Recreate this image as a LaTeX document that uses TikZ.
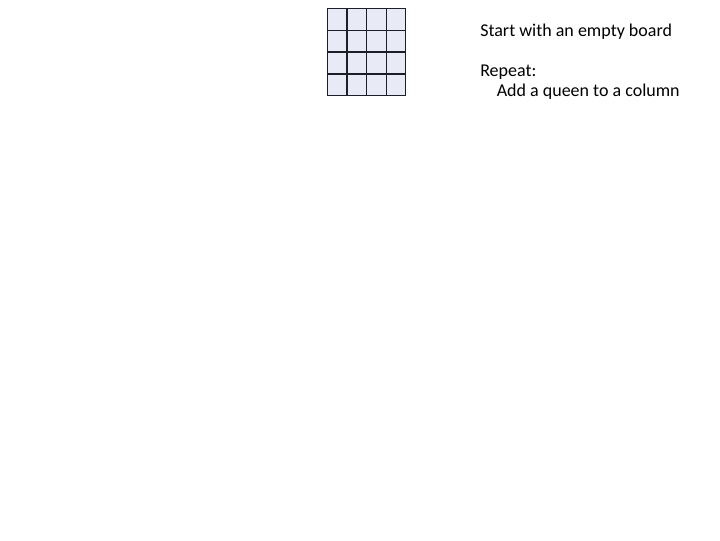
\documentclass[tikz,border=0pt]{standalone}
\usepackage{fontspec}
\setmainfont{Carlito}
\definecolor{cellfill}{RGB}{232,235,245}
\definecolor{gridline}{RGB}{30,30,40}
\tikzset{
  txt/.style={anchor=base west, inner sep=0pt, font=\fontsize{13.5pt}{16pt}\selectfont},
}
\begin{document}
\begin{tikzpicture}[x=0.75pt,y=-0.75pt]
\useasboundingbox (0,0) rectangle (720,540);
% board
\fill[cellfill] (327.3,8.3) rectangle (405.7,95.7);
\foreach \xx in {327.3,346.9,366.5,386.1,405.7}
  \draw[gridline, line width=0.9pt] (\xx,8.3) -- (\xx,95.7);
\foreach \yy in {8.3,30.2,52.0,73.9,95.7}
  \draw[gridline, line width=0.9pt] (327.3,\yy) -- (405.7,\yy);
\node[coordinate] (board) at (366.5,52) {};
% text
\node[txt] (l1) at (480,36) {Start with an empty board};
\node[txt] (l2) at (480,76.5) {Repeat:};
\node[txt] (l3) at (496.5,96.5) {Add a queen to a column};
\end{tikzpicture}
\end{document}
